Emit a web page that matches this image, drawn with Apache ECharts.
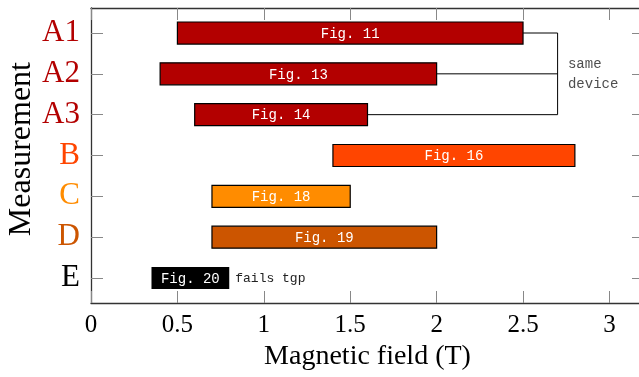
<!DOCTYPE html>
<html><head><meta charset="utf-8">
<script src="https://cdn.jsdelivr.net/npm/echarts@6/dist/echarts.min.js"></script>
<style>html,body{margin:0;padding:0;background:#fff}#c{width:639px;height:377px}</style>
</head><body><div id="c"></div>
<script>
const categories = ['A1','A2','A3','B','C','D','E'];
const startVals = [0.5, 0.4, 0.6, 1.4, 0.7, 0.7, 0.35];
const endVals   = [2.5, 2.0, 1.6, 2.8, 1.5, 2.0, 0.8];
const barLabels = ['Fig. 11','Fig. 13','Fig. 14','Fig. 16','Fig. 18','Fig. 19','Fig. 20'];
const barColors = ['#b30000','#b30000','#b30000','#ff4500','#ff8c00','#cc5500','#000000'];
const notes = ['','','','','','','fails tgp'];
const xTicks = [0, 0.5, 1, 1.5, 2, 2.5, 3];
const bracketRows = [0, 1, 2];
const bracketX = 2.7;
const bracketText = 'same\ndevice';
const yTitle = 'Measurement';
const xTitle = 'Magnetic field (T)';

const rows = categories.map((c, i) => [i, startVals[i], endVals[i]]);
const monoFont = '14px "Liberation Mono"';

const chart = echarts.init(document.getElementById('c'), null, {renderer: 'canvas'});

const yBase = {
  type: 'value', min: -0.6125, max: 6.6125, inverse: true,
  splitLine: {show: false},
  axisLine: {show: true, onZero: false, lineStyle: {color: '#333', width: 1.3}},
  axisTick: {show: true, inside: true, length: 12, customValues: categories.map((c,i)=>i), lineStyle: {color: '#888'}}
};
const xBase = {
  type: 'value', min: 0, max: 3.2, interval: 0.5,
  splitLine: {show: false},
  axisLine: {show: true, onZero: false, lineStyle: {color: '#333', width: 1.3}},
  axisTick: {show: true, inside: true, length: 12, customValues: xTicks, lineStyle: {color: '#888'}}
};

const bracketA = [[endVals[bracketRows[0]], bracketRows[0]], [bracketX, bracketRows[0]], [bracketX, bracketRows[2]], [endVals[bracketRows[2]], bracketRows[2]]];
const bracketB = [[endVals[bracketRows[1]], bracketRows[1]], [bracketX, bracketRows[1]]];

chart.setOption({
  animation: false,
  grid: {left: 91, right: -5, top: 8, bottom: 74, containLabel: false, outerBoundsMode: 'none'},
  graphic: [{
    type: 'text', left: 6, top: 62, rotation: Math.PI / 2,
    style: {text: yTitle, font: '32px "Liberation Serif"', fill: '#000'}
  }],
  xAxis: [
    Object.assign({}, xBase, {
      position: 'bottom',
      name: xTitle, nameLocation: 'middle', nameGap: 38,
      nameTextStyle: {fontFamily: 'Liberation Serif', fontSize: 28, color: '#000'},
      axisLabel: {customValues: xTicks, fontFamily: 'Liberation Serif', fontSize: 25, color: '#000', margin: 10,
        formatter: v => String(v)}
    }),
    Object.assign({}, xBase, {position: 'top', axisLabel: {show: false}})
  ],
  yAxis: [
    Object.assign({}, yBase, {
      position: 'left',
      axisLabel: {customValues: categories.map((c,i)=>i), fontFamily: 'Liberation Serif', fontSize: 31, margin: 11,
        formatter: v => categories[v],
        color: v => barColors[v] === '#000000' ? '#000' : barColors[v]}
    }),
    Object.assign({}, yBase, {position: 'right', axisLabel: {show: false}})
  ],
  series: [
    {
      type: 'line', data: bracketA, symbol: 'none', silent: true,
      lineStyle: {color: '#000', width: 1}, z: 1
    },
    {
      type: 'line', data: bracketB, symbol: 'none', silent: true,
      lineStyle: {color: '#000', width: 1}, z: 1
    },
    {
      type: 'scatter', data: [[bracketX + 0.06, bracketRows[1]]], symbolSize: 0,
      label: {show: true, position: 'right', distance: 0, formatter: bracketText,
        fontFamily: 'Liberation Mono', fontSize: 14, color: '#222', lineHeight: 20, align: 'left'}
    },
    {
      type: 'custom',
      data: rows,
      encode: {x: [1, 2], y: 0},
      z: 3,
      renderItem: function (params, api) {
        const i = api.value(0);
        const p0 = api.coord([api.value(1), i]);
        const p1 = api.coord([api.value(2), i]);
        const h = api.size([0, 1])[1] * 0.54;
        const isBlack = barColors[i] === '#000000';
        const children = [{
          type: 'rect',
          shape: {x: p0[0], y: p0[1] - h / 2, width: p1[0] - p0[0], height: h},
          style: {fill: barColors[i], stroke: '#000', lineWidth: isBlack ? 0 : 1.2}
        }, {
          type: 'text',
          style: {text: barLabels[i], x: (p0[0] + p1[0]) / 2, y: p0[1] + 1, align: 'center', verticalAlign: 'middle',
            fill: '#fff', font: monoFont}
        }];
        if (notes[i]) {
          children.push({
            type: 'text',
            style: {text: notes[i], x: p1[0] + 6, y: p0[1] + 1, align: 'left', verticalAlign: 'middle',
              fill: '#222', font: '13px "Liberation Mono"'}
          });
        }
        return {type: 'group', children: children};
      }
    }
  ]
});
</script></body></html>
